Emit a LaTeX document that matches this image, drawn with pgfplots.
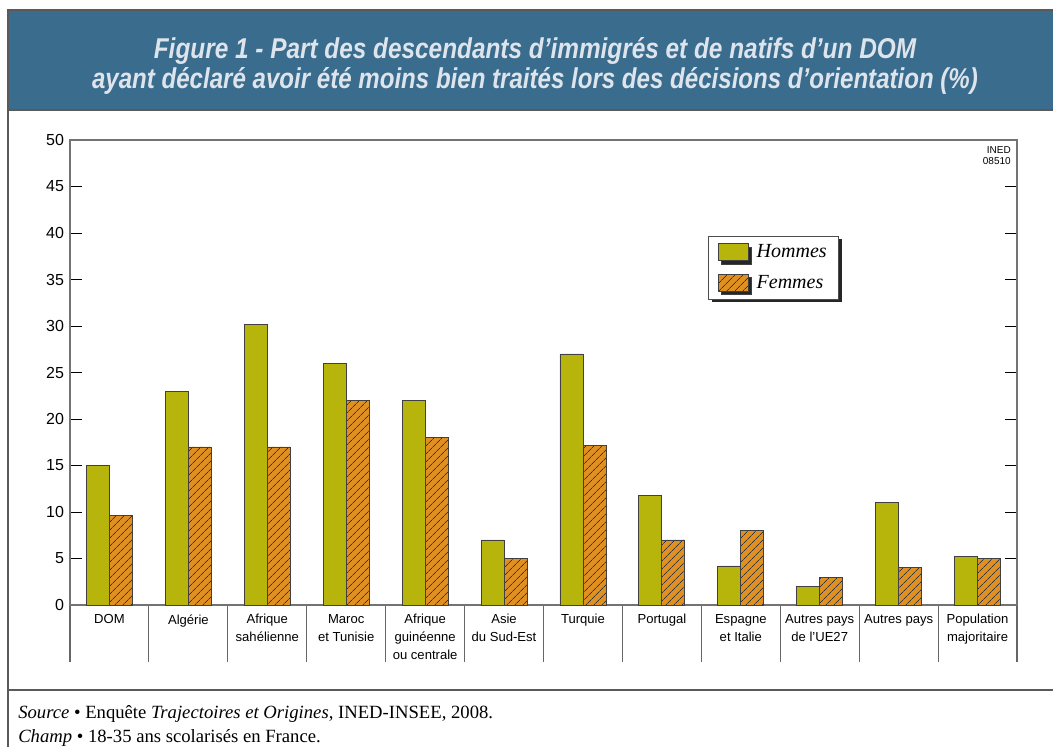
\documentclass[border=0pt]{standalone}
\usepackage{fontspec}
\setmainfont{Liberation Serif}
\setsansfont{Liberation Sans}
\usepackage{pgfplots}
\pgfplotsset{compat=1.18}
\usetikzlibrary{patterns.meta,shadows}

\definecolor{titleblue}{RGB}{58,108,142}
\definecolor{titletext}{RGB}{222,228,235}
\definecolor{hommes}{RGB}{183,180,12}
\definecolor{femmes}{RGB}{224,144,32}
\definecolor{framegray}{RGB}{90,90,90}

\pgfplotsset{
  barlegend/.style={legend image code/.code={\draw[##1] (0pt,-6.4pt) rectangle (22.5pt,6.4pt);}},
}

\begin{document}
\begin{tikzpicture}[x=0.75pt,y=0.75pt]
\useasboundingbox[fill=white] (0,0) rectangle (1053,747);

% title band and frame
\fill[titleblue] (8,637) rectangle (1060,737);
\draw[framegray, line width=1pt] (1060,737) -- (8,737) -- (8,0);
\draw[framegray, line width=1pt] (8,637) -- (1060,637);
\draw[framegray, line width=0.9pt] (8,57) -- (1060,57);

\node[text=titletext, align=center, font=\sffamily\bfseries\itshape\fontsize{21.5}{22.5}\selectfont]
  at (535,681) {\scalebox{0.85}[1]{Figure 1 - Part des descendants d’immigrés et de natifs d’un DOM}\\
  \scalebox{0.84}[1]{ayant déclaré avoir été moins bien traités lors des décisions d’orientation (\%)}};

% category separators below the axis
\foreach \k in {0,...,12} \draw[black!60, line width=0.8pt] (70+78.9167*\k,142) -- ++(0,-57);

\begin{axis}[
    at={(52.5pt,106.5pt)}, anchor=south west,
    scale only axis,
    width=710.25pt, height=348.75pt,
    ybar=0pt, bar width=17.25pt,
    xmin=-0.5, xmax=11.5,
    ymin=0, ymax=50,
    ytick={0,5,...,50},
    ytick pos=both,
    tick align=inside,
    major tick length=9pt,
    ytick style={black, line width=0.7pt},
    xtick={0,...,11},
    xtick style={draw=none},
    xticklabels={DOM, Algérie, {Afrique\\sahélienne}, {Maroc\\et Tunisie}, {Afrique\\guinéenne\\ou centrale},
      {Asie\\du Sud-Est}, Turquie, Portugal, {Espagne\\et Italie}, {Autres pays\\de l’UE27}, Autres pays,
      {Population\\majoritaire}},
    xticklabel style={align=center, font=\sffamily\fontsize{9.8}{13.5}\selectfont, anchor=north, yshift=-3.5pt},
    yticklabel style={font=\sffamily\fontsize{12}{13}\selectfont, xshift=-1pt},
    /pgf/number format/assume math mode=true,
    axis line style={black!55, line width=0.8pt},
    legend style={at={(0.674,0.794)}, anchor=north west, draw=black!70, fill=white,
      font=\itshape\fontsize{15}{17}\selectfont, legend cell align=left,
      drop shadow={shadow xshift=2.5pt, shadow yshift=-2.5pt, fill=black!85, opacity=1},
      inner xsep=7pt, inner ysep=4.5pt, row sep=7.5pt, column sep=4pt},
]
\addplot[fill=hommes, draw=black!75, line width=0.6pt, barlegend] coordinates {
  (0,15) (1,23) (2,30.2) (3,26) (4,22) (5,7) (6,27) (7,11.8) (8,4.2) (9,2) (10,11) (11,5.2)};
\addlegendentry{Hommes}
\addplot[fill=femmes, draw=black!75, line width=0.6pt, barlegend,
  postaction={pattern={Lines[angle=45,distance=4pt,line width=0.55pt]}, pattern color=black!80}] coordinates {
  (0,9.6) (1,17) (2,17) (3,22) (4,18) (5,5) (6,17.2) (7,7) (8,8) (9,3) (10,4) (11,5)};
\addlegendentry{Femmes}
\end{axis}

\node[anchor=north east, align=right, font=\sffamily\fontsize{7.5}{8.5}\selectfont, inner sep=0pt] at (1011,601) {INED\\08510};

\node[anchor=base west, inner sep=0pt, font=\fontsize{14}{16}\selectfont] at (18,29)
  {\textit{Source} • Enquête \textit{Trajectoires et Origines}, INED-INSEE, 2008.};
\node[anchor=base west, inner sep=0pt, font=\fontsize{14}{16}\selectfont] at (18,5)
  {\textit{Champ} • 18-35 ans scolarisés en France.};
\end{tikzpicture}
\end{document}
